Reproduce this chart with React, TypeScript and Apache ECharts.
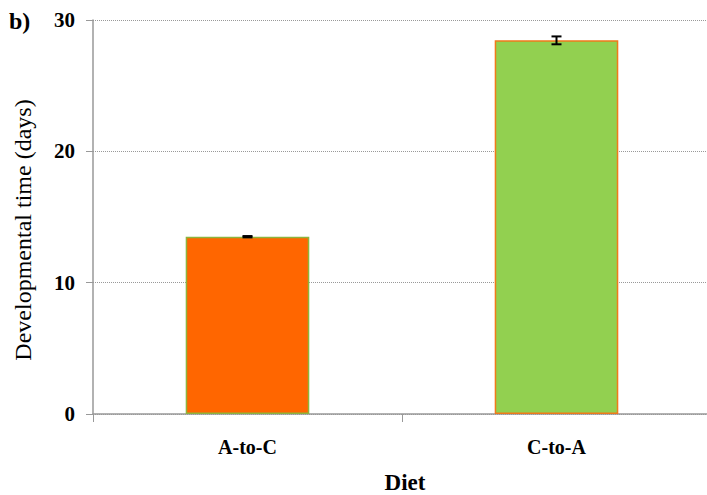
import React, { useEffect, useRef } from "react";
import * as echarts from "echarts";

const categories = ["A-to-C", "C-to-A"];
const values = [13.5, 28.45];
const errors = [0.05, 0.3];
const barColors = ["#FF6600", "#92D050"];
const borderColors = ["#8DB43C", "#F07A1A"];
const yTicks = [0, 10, 20, 30];

export default function App() {
  const ref = useRef<HTMLDivElement>(null);
  useEffect(() => {
    document.body.style.margin = "0";
    const chart = echarts.init(ref.current!, null, { renderer: "svg" });
    const font = "'Liberation Serif', 'Times New Roman', serif";
    chart.setOption({
      animation: false,
      backgroundColor: "#ffffff",
      grid: { left: 93, right: -4, top: 20, bottom: 81, containLabel: false, outerBoundsMode: "none" },
      graphic: [
        {
          type: "text",
          left: 9,
          top: 9,
          style: { text: "b)", font: `bold 24px ${font}`, fill: "#000" },
        },
        {
          type: "text",
          x: 23,
          y: 230,
          rotation: Math.PI / 2,
          style: {
            text: "Developmental time (days)",
            font: `24px ${font}`,
            fill: "#000",
            align: "center",
            verticalAlign: "middle",
          },
        },
        {
          type: "text",
          x: 405,
          y: 482,
          style: {
            text: "Diet",
            font: `bold 23px ${font}`,
            fill: "#000",
            align: "center",
            verticalAlign: "middle",
          },
        },
      ],
      xAxis: {
        type: "category",
        data: categories,
        axisLine: { lineStyle: { color: "#999999", width: 1.5 } },
        axisTick: { show: true, length: 8, alignWithLabel: false, lineStyle: { color: "#999999" } },
        axisLabel: { fontFamily: font, fontWeight: "bold", fontSize: 20, color: "#000", margin: 23 },
      },
      yAxis: {
        type: "value",
        min: 0,
        max: 30,
        interval: 10,
        axisLine: { show: true, lineStyle: { color: "#999999", width: 1.5 } },
        axisTick: { show: true, length: 7, lineStyle: { color: "#999999" } },
        axisLabel: {
          fontFamily: font,
          fontWeight: "bold",
          fontSize: 21,
          color: "#000",
          margin: 18,
          formatter: (v: number) => (yTicks.includes(v) ? String(v) : ""),
        },
        splitLine: { show: true, lineStyle: { color: "#999999", type: [1, 1], width: 1 } },
      },
      series: [
        {
          type: "bar",
          barWidth: "40%",
          data: values.map((v, i) => ({
            value: v,
            itemStyle: { color: barColors[i], borderColor: borderColors[i], borderWidth: 1.5 },
          })),
        },
        {
          type: "custom",
          z: 10,
          data: values.map((v, i) => [i, v, errors[i]]),
          renderItem: (params: any, api: any) => {
            const x = api.value(0);
            const v = api.value(1);
            const e = api.value(2);
            const hi = api.coord([x, v + e]);
            const lo = api.coord([x, v - e]);
            const w = 5;
            const style = { stroke: "#000", lineWidth: 2 };
            return {
              type: "group",
              children: [
                { type: "line", shape: { x1: hi[0], y1: hi[1], x2: lo[0], y2: lo[1] }, style },
                { type: "line", shape: { x1: hi[0] - w, y1: hi[1], x2: hi[0] + w, y2: hi[1] }, style },
                { type: "line", shape: { x1: lo[0] - w, y1: lo[1], x2: lo[0] + w, y2: lo[1] }, style },
              ],
            };
          },
        },
      ],
    });
    return () => chart.dispose();
  }, []);
  return <div ref={ref} style={{ width: 707, height: 495 }} />;
}
